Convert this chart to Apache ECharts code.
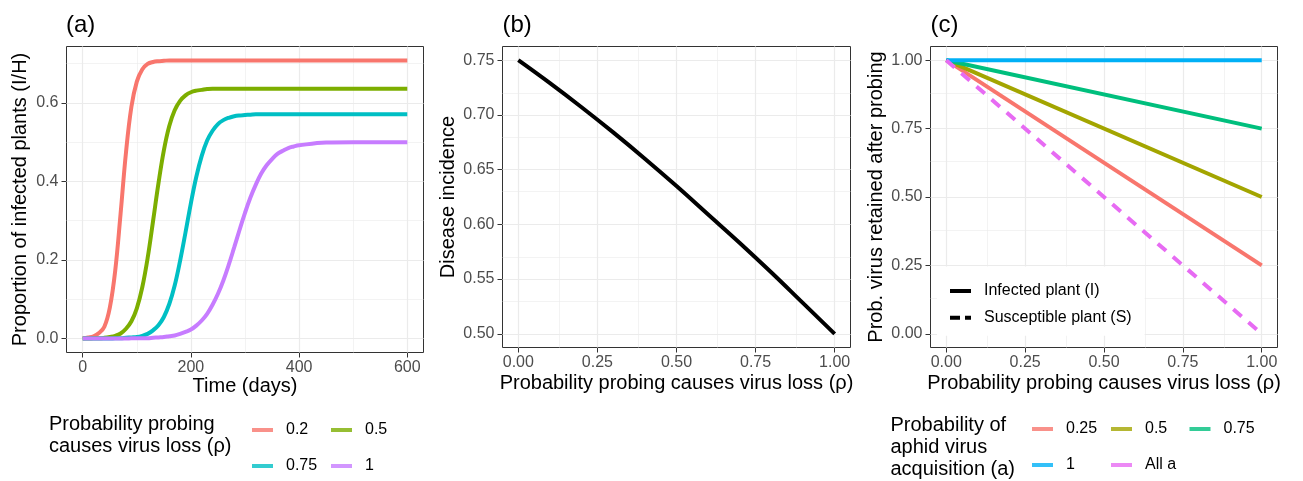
<!DOCTYPE html>
<html>
<head>
<meta charset="utf-8">
<script src="https://cdn.jsdelivr.net/npm/echarts@6/dist/echarts.min.js"></script>
<style>
  html, body { margin: 0; padding: 0; background: #fff; }
  #chart { width: 1303px; height: 481px; }
</style>
</head>
<body>
<div id="chart"></div>
<script>
// ---- data ----
// panel (a): proportion of infected plants over time, one curve per rho
const days = [0, 10, 20, 30, 40, 50, 60, 70, 80, 90, 100, 110, 120, 130, 140, 150, 160, 170, 180, 190,
  200, 210, 220, 230, 240, 250, 260, 270, 280, 290, 300, 310, 320, 330, 340, 350, 360, 370, 380, 390,
  400, 450, 500, 550, 600];
const rhoLabels = ['0.2', '0.5', '0.75', '1'];
const infRho02 = [0.001, 0.003, 0.006, 0.014, 0.030, 0.078, 0.172, 0.318, 0.474, 0.590, 0.654, 0.685, 0.699, 0.704, 0.706, 0.707, 0.708, 0.708, 0.708, 0.708,
  0.708, 0.708, 0.708, 0.708, 0.708, 0.708, 0.708, 0.708, 0.708, 0.708, 0.708, 0.708, 0.708, 0.708, 0.708, 0.708, 0.708, 0.708, 0.708, 0.708,
  0.708, 0.708, 0.708, 0.708, 0.708];
const infRho05 = [0.000, 0.000, 0.001, 0.001, 0.002, 0.004, 0.007, 0.013, 0.025, 0.044, 0.077, 0.130, 0.205, 0.299, 0.395, 0.479, 0.541, 0.581, 0.605, 0.619,
  0.627, 0.631, 0.633, 0.635, 0.636, 0.636, 0.636, 0.636, 0.636, 0.636, 0.636, 0.636, 0.636, 0.636, 0.636, 0.636, 0.636, 0.636, 0.636, 0.636,
  0.636, 0.636, 0.636, 0.636, 0.636];
const infRho075 = [0.000, 0.000, 0.000, 0.000, 0.000, 0.000, 0.001, 0.001, 0.002, 0.003, 0.004, 0.007, 0.012, 0.021, 0.034, 0.055, 0.088, 0.135, 0.198, 0.270,
  0.345, 0.412, 0.465, 0.504, 0.529, 0.546, 0.556, 0.562, 0.566, 0.568, 0.569, 0.570, 0.571, 0.571, 0.571, 0.571, 0.571, 0.571, 0.571, 0.571,
  0.571, 0.571, 0.571, 0.571, 0.571];
const infRho1 = [0.000, 0.000, 0.000, 0.000, 0.000, 0.000, 0.000, 0.000, 0.000, 0.001, 0.001, 0.001, 0.001, 0.002, 0.003, 0.004, 0.006, 0.008, 0.012, 0.017,
  0.023, 0.033, 0.046, 0.063, 0.086, 0.114, 0.148, 0.188, 0.232, 0.277, 0.320, 0.359, 0.392, 0.420, 0.441, 0.457, 0.470, 0.478, 0.485, 0.489,
  0.492, 0.499, 0.500, 0.500, 0.500];
const colorsA = ['#F8766D', '#7CAE00', '#00BFC4', '#C77CFF'];

// panel (b): disease incidence vs rho
const rhoB = [0, 0.1, 0.2, 0.3, 0.4, 0.5, 0.6, 0.7, 0.8, 0.9, 1];
const incidence = [0.750, 0.729, 0.707, 0.684, 0.660, 0.635, 0.609, 0.583, 0.556, 0.528, 0.500];

// panel (c): prob. virus retained after probing
const rhoC = [0, 1];
const acqLabels = ['0.25', '0.5', '0.75', '1', 'All a'];
const retA025 = [1, 0.25];
const retA05 = [1, 0.5];
const retA075 = [1, 0.75];
const retA1 = [1, 1];
const retAllS = [1, 0];
const colorsC = ['#F8766D', '#A3A500', '#00BF7D', '#00B0F6', '#E76BF3'];

// ticks
const ticksAx = [0, 200, 400, 600];
const minorAx = [100, 300, 500];
const ticksAy = [0, 0.2, 0.4, 0.6];
const minorAy = [0.1, 0.3, 0.5, 0.7];
const ticksRho = [0, 0.25, 0.5, 0.75, 1];
const minorRho = [0.125, 0.375, 0.625, 0.875];
const ticksBy = [0.5, 0.55, 0.6, 0.65, 0.7, 0.75];
const minorBy = [0.525, 0.575, 0.625, 0.675, 0.725];
const ticksCy = [0, 0.25, 0.5, 0.75, 1];
const minorCy = [0.125, 0.375, 0.625, 0.875];

const FONT = '"Liberation Sans", Arial, Helvetica, sans-serif';
const chart = echarts.init(document.getElementById('chart'));

function pairs(xs, ys) { return xs.map((x, i) => [x, ys[i]]); }

function makeX(idx, min, max, ticks, fmt) {
  return {
    type: 'value', gridIndex: idx, min: min, max: max,
    axisLine: { show: false, onZero: false },
    axisTick: { show: true, length: 5, customValues: ticks, lineStyle: { color: '#333333', width: 1 } },
    axisLabel: { customValues: ticks, color: '#4D4D4D', fontSize: 16, fontFamily: FONT, margin: 7, formatter: fmt },
    splitLine: { show: false }
  };
}
function makeY(idx, min, max, ticks, fmt) {
  return {
    type: 'value', gridIndex: idx, min: min, max: max,
    axisLine: { show: false, onZero: false },
    axisTick: { show: true, length: 5, customValues: ticks, lineStyle: { color: '#333333', width: 1 } },
    axisLabel: { customValues: ticks, color: '#4D4D4D', fontSize: 16, fontFamily: FONT, margin: 8, formatter: fmt },
    splitLine: { show: false }
  };
}
// background grid lines drawn through the axes' own scales
function gridLines(idx, xMaj, xMin, yMaj, yMin) {
  const minorStyle = { color: '#EBEBEB', width: 0.6, type: 'solid' };
  const majorStyle = { color: '#EBEBEB', width: 1.2, type: 'solid' };
  const d = [];
  xMin.forEach(v => d.push({ xAxis: v, lineStyle: minorStyle }));
  yMin.forEach(v => d.push({ yAxis: v, lineStyle: minorStyle }));
  xMaj.forEach(v => d.push({ xAxis: v, lineStyle: majorStyle }));
  yMaj.forEach(v => d.push({ yAxis: v, lineStyle: majorStyle }));
  return {
    type: 'line', xAxisIndex: idx, yAxisIndex: idx, data: [], silent: true, z: 1,
    markLine: { silent: true, z: 1, symbol: ['none', 'none'], animation: false, label: { show: false },
      emphasis: { disabled: true }, data: d }
  };
}
function lineSeries(idx, name, data, color, dash, smooth) {
  return {
    type: 'line', name: name, xAxisIndex: idx, yAxisIndex: idx, data: data, z: 3,
    symbol: 'none', smooth: smooth ? 0.4 : false, silent: true,
    lineStyle: { color: color, width: 4, type: dash || 'solid' }, itemStyle: { color: color }
  };
}
// empty scatter series only carrying a colour key (a plain solid bar, like ggplot's colour guide)
function keySeries(idx, name, color) {
  return { type: 'scatter', name: name, xAxisIndex: idx, yAxisIndex: idx, data: [], silent: true,
    itemStyle: { color: color, borderWidth: 0 } };
}
function legendItem(name, left, cy, fmt) {
  return {
    data: [name], left: left, top: cy - 8, padding: 0, icon: 'rect', itemWidth: 21, itemHeight: 4,
    selectedMode: false, formatter: fmt,
    textStyle: { fontSize: 16, fontFamily: FONT, color: '#000', padding: [0, 0, 0, 8] }
  };
}
function txt(text, x, y, size, opts) {
  opts = opts || {};
  return {
    type: 'text', x: x, y: y, rotation: opts.rot || 0, silent: true,
    style: { text: text, font: size + 'px ' + FONT, fill: '#000',
      align: opts.align || 'center', verticalAlign: 'middle',
      textAlign: opts.align || 'center', textVerticalAlign: 'middle' }
  };
}

const keyA = l => 'keyA ' + l;
const keyC = l => 'keyC ' + l;
const stripKey = n => n.replace(/^key[AC] /, '');

const seriesA = [infRho02, infRho05, infRho075, infRho1].map((v, i) =>
  lineSeries(0, 'rho ' + rhoLabels[i], pairs(days, v), colorsA[i], null, true));
const seriesC = [retA025, retA05, retA075, retA1, retAllS].map((v, i) =>
  lineSeries(2, 'acq ' + acqLabels[i], pairs(rhoC, v), colorsC[i], i === 4 ? [11, 9] : null, false));
const keysA = rhoLabels.map((l, i) => keySeries(0, keyA(l), colorsA[i]));
const keysC = acqLabels.map((l, i) => keySeries(2, keyC(l), colorsC[i]));

const option = {
  animation: false,
  backgroundColor: '#fff',
  grid: [
    { left: 66.5, top: 46.5, width: 357, height: 306, show: true, borderColor: '#333333', borderWidth: 1 },
    { left: 502.5, top: 46.5, width: 348, height: 301, show: true, borderColor: '#333333', borderWidth: 1 },
    { left: 930.5, top: 46.5, width: 347, height: 301, show: true, borderColor: '#333333', borderWidth: 1 }
  ],
  xAxis: [
    makeX(0, -30, 630, ticksAx, v => String(v)),
    makeX(1, -0.05, 1.05, ticksRho, v => v.toFixed(2)),
    makeX(2, -0.05, 1.05, ticksRho, v => v.toFixed(2))
  ],
  yAxis: [
    makeY(0, -0.0354, 0.7434, ticksAy, v => v.toFixed(1)),
    makeY(1, 0.4875, 0.7625, ticksBy, v => v.toFixed(2)),
    makeY(2, -0.05, 1.05, ticksCy, v => v.toFixed(2))
  ],
  legend: [
    legendItem(keyA(rhoLabels[0]), 252, 430, stripKey),
    legendItem(keyA(rhoLabels[1]), 331, 430, stripKey),
    legendItem(keyA(rhoLabels[2]), 252, 466, stripKey),
    legendItem(keyA(rhoLabels[3]), 331, 466, stripKey),
    legendItem(keyC(acqLabels[0]), 1032, 429, stripKey),
    legendItem(keyC(acqLabels[1]), 1111, 429, stripKey),
    legendItem(keyC(acqLabels[2]), 1189.5, 429, stripKey),
    legendItem(keyC(acqLabels[3]), 1032, 465, stripKey),
    legendItem(keyC(acqLabels[4]), 1111, 465, stripKey),
    {
      data: [
        { name: 'Infected plant (I)', lineStyle: { type: 'solid' } },
        { name: 'Susceptible plant (S)', lineStyle: { type: [10, 5] } }
      ],
      orient: 'vertical',
      left: 937, top: 266.5, backgroundColor: '#fff', padding: [16.5, 13, 10, 11],
      itemWidth: 21, itemHeight: 16, itemGap: 10.7, selectedMode: false,
      itemStyle: { opacity: 0 },
      lineStyle: { width: 4, color: '#000' },
      textStyle: { fontSize: 16, fontFamily: FONT, color: '#000', padding: [0, 0, 0, 8] }
    }
  ],
  graphic: [
    txt('(a)', 66, 25, 24, { align: 'left' }),
    txt('(b)', 502.5, 25, 24, { align: 'left' }),
    txt('(c)', 930.5, 25, 24, { align: 'left' }),
    txt('Proportion of infected plants (I/H)', 20, 199.5, 20, { rot: Math.PI / 2 }),
    txt('Disease incidence', 448, 197, 20, { rot: Math.PI / 2 }),
    txt('Prob. virus retained after probing', 876.5, 197, 20, { rot: Math.PI / 2 }),
    txt('Time (days)', 245, 386, 20),
    txt('Probability probing causes virus loss (ρ)', 676.5, 383, 20),
    txt('Probability probing causes virus loss (ρ)', 1104, 383, 20),
    txt('Probability probing', 49, 424, 20, { align: 'left' }),
    txt('causes virus loss (ρ)', 49, 446, 20, { align: 'left' }),
    txt('Probability of', 890.5, 425.5, 20, { align: 'left' }),
    txt('aphid virus', 890.5, 447, 20, { align: 'left' }),
    txt('acquisition (a)', 890.5, 469, 20, { align: 'left' })
  ],
  series: [
    gridLines(0, ticksAx, minorAx, ticksAy, minorAy),
    gridLines(1, ticksRho, minorRho, ticksBy, minorBy),
    gridLines(2, ticksRho, minorRho, ticksCy, minorCy),
    ...seriesA,
    lineSeries(1, 'incidence', pairs(rhoB, incidence), '#000000', null, true),
    ...seriesC,
    ...keysA,
    ...keysC,
    { type: 'line', name: 'Infected plant (I)', xAxisIndex: 2, yAxisIndex: 2, data: [], symbol: 'none',
      lineStyle: { color: '#000', width: 4, type: 'solid' }, itemStyle: { color: '#000' } },
    { type: 'line', name: 'Susceptible plant (S)', xAxisIndex: 2, yAxisIndex: 2, data: [], symbol: 'none',
      lineStyle: { color: '#000', width: 4, type: [10, 5] }, itemStyle: { color: '#000' } }
  ]
};
chart.setOption(option);
</script>
</body>
</html>
